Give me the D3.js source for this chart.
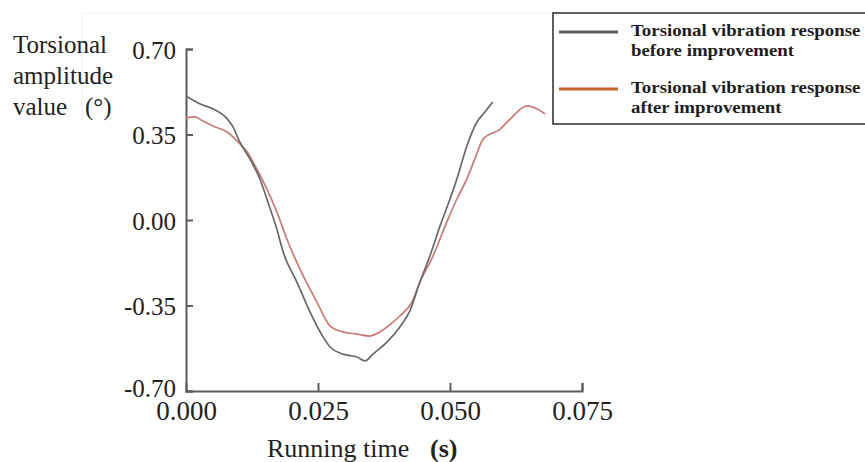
<!DOCTYPE html>
<html>
<head>
<meta charset="utf-8">
<script src="https://cdn.jsdelivr.net/npm/d3@7"></script>
<style>
  html, body { margin: 0; padding: 0; background: #fff; }
  svg { display: block; }
  text { font-family: "Liberation Serif", "Times New Roman", serif; }
</style>
</head>
<body>
<svg id="chart" width="865" height="462"></svg>
<script>
// Running time (s) for each sample of the torsional response curves
const timeBefore = [0.0000, 0.0027, 0.0051, 0.0078, 0.0089, 0.0102, 0.0121, 0.0140, 0.0155, 0.0172,
  0.0184, 0.0210, 0.0235, 0.0254, 0.0273, 0.0297, 0.0324, 0.0339, 0.0354, 0.0381,
  0.0405, 0.0424, 0.0443, 0.0462, 0.0481, 0.0500, 0.0513, 0.0532, 0.0551, 0.0566, 0.0581];
// Torsional amplitude (°) before improvement
const ampBefore = [0.508, 0.475, 0.455, 0.414, 0.381, 0.319, 0.250, 0.168, 0.074, -0.037,
  -0.131, -0.254, -0.377, -0.458, -0.520, -0.549, -0.561, -0.577, -0.549, -0.499,
  -0.438, -0.372, -0.254, -0.147, -0.025, 0.086, 0.168, 0.303, 0.401, 0.442, 0.483];

const timeAfter = [0.0000, 0.0017, 0.0032, 0.0051, 0.0078, 0.0097, 0.0116, 0.0134, 0.0153, 0.0172,
  0.0191, 0.0222, 0.0248, 0.0273, 0.0297, 0.0324, 0.0348, 0.0367, 0.0392, 0.0405,
  0.0428, 0.0443, 0.0468, 0.0494, 0.0513, 0.0532, 0.0547, 0.0563, 0.0595, 0.0614,
  0.0646, 0.0665, 0.0680];
// Torsional amplitude (°) after improvement
const ampAfter = [0.418, 0.422, 0.405, 0.385, 0.360, 0.323, 0.278, 0.209, 0.127, 0.033,
  -0.078, -0.229, -0.336, -0.434, -0.458, -0.467, -0.475, -0.458, -0.418, -0.393,
  -0.336, -0.254, -0.147, -0.008, 0.086, 0.168, 0.250, 0.332, 0.372, 0.413,
  0.467, 0.454, 0.434];

const xTicks = [0, 0.025, 0.05, 0.075];
const yTicks = [-0.70, -0.35, 0.00, 0.35, 0.70];
const yLabelLines = ["Torsional", "amplitude", "value"];
const xLabel = "Running time";
const xUnit = "(s)";
const legendItems = [
  { lines: ["Torsional vibration response", "before improvement"], color: "#5f5f5f" },
  { lines: ["Torsional vibration response", "after improvement"], color: "#c8622f" }
];

const svg = d3.select("#chart");

const x = d3.scaleLinear().domain([0, 0.075]).range([186, 582]);
const y = d3.scaleLinear().domain([-0.70, 0.70]).range([391, 49]);

// faint frame edge of the figure panel
svg.append("path")
  .attr("d", "M82,120 L82,13 L560,13")
  .attr("fill", "none")
  .attr("stroke", "#efefef")
  .attr("stroke-width", 1);

// axes with inward ticks; plain hyphen for negative values
const axisColor = "#5c5c5c";
const fmtY = d => d3.format(".2f")(d).replace("\u2212", "-");
const gx = svg.append("g").attr("transform", `translate(0,${y(-0.70)})`)
  .call(d3.axisBottom(x).tickValues(xTicks).tickSize(-8).tickFormat(d3.format(".3f")));
const gy = svg.append("g").attr("transform", `translate(${x(0)},0)`)
  .call(d3.axisLeft(y).tickValues(yTicks).tickSize(-7).tickFormat(fmtY));

[gx, gy].forEach(g => {
  g.select(".domain").attr("stroke", axisColor).attr("stroke-width", 2);
  g.selectAll(".tick line").attr("stroke", axisColor).attr("stroke-width", 2);
  g.selectAll(".tick text")
    .attr("fill", "#222")
    .attr("font-family", "Liberation Serif, serif");
});
gx.selectAll(".tick text").attr("font-size", 27).attr("y", 10).attr("dy", "0.71em");
gx.selectAll(".tick").filter(d => d === 0).select("line").remove();
gy.selectAll(".tick text").attr("font-size", 25).attr("x", -10).attr("dy", "0.36em");
gy.selectAll(".tick").filter(d => d === -0.70).select("text").attr("dy", "0.2em");

// response curves
const line = d3.line().x(d => x(d[0])).y(d => y(d[1])).curve(d3.curveMonotoneX);
const before = timeBefore.map((t, i) => [t, ampBefore[i]]);
const after = timeAfter.map((t, i) => [t, ampAfter[i]]);

const defs = svg.append("defs");
defs.append("filter").attr("id", "soft")
  .append("feGaussianBlur").attr("stdDeviation", 0.45);

svg.append("path").datum(after)
  .attr("d", line).attr("fill", "none")
  .attr("stroke", "#c97b76").attr("stroke-width", 1.7)
  .attr("filter", "url(#soft)");
svg.append("path").datum(before)
  .attr("d", line).attr("fill", "none")
  .attr("stroke", "#696969").attr("stroke-width", 1.7)
  .attr("filter", "url(#soft)");

// y-axis title
const yt = svg.append("text").attr("fill", "#222").attr("font-size", 25);
yLabelLines.forEach((s, i) => {
  yt.append("tspan").attr("x", 13).attr("y", 53 + i * 31).text(s);
});
yt.append("tspan").attr("x", 85).attr("y", 115).text("(°)");

// x-axis title
const xt = svg.append("text").attr("fill", "#222").attr("font-size", 26).attr("y", 457);
xt.append("tspan").attr("x", 267).text(xLabel);
xt.append("tspan").attr("x", 430).attr("font-weight", "bold").text(xUnit);

// legend
const lg = svg.append("g");
lg.append("rect")
  .attr("x", 553).attr("y", 13).attr("width", 340).attr("height", 111)
  .attr("fill", "#fff").attr("stroke", "#2b2b2b").attr("stroke-width", 1.5);
legendItems.forEach((item, i) => {
  const top = 32 + i * 57;
  lg.append("line")
    .attr("x1", 559).attr("x2", 618).attr("y1", top).attr("y2", top)
    .attr("stroke", item.color).attr("stroke-width", 3);
  item.lines.forEach((s, j) => {
    const by = top + 4 + j * 20;
    lg.append("text")
      .attr("transform", `translate(631,${by}) scale(1.11,1)`)
      .attr("font-size", 17).attr("font-weight", "bold").attr("fill", "#1e1e1e")
      .text(s);
  });
});
</script>
</body>
</html>
